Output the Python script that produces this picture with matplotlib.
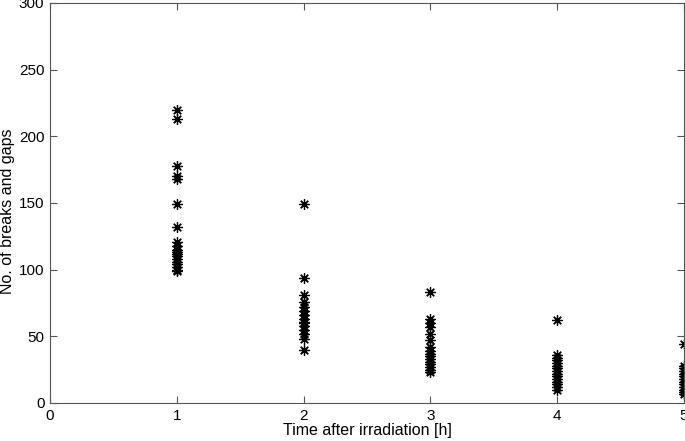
import matplotlib
matplotlib.use("Agg")
import matplotlib.pyplot as plt

plt.rcParams['font.family'] = ['Liberation Sans', 'DejaVu Sans']

t1 = [220, 213, 178, 170, 168, 149, 132, 121, 118, 115, 113, 112, 110, 108, 106, 104, 102, 100, 99]
t2 = [149, 94, 81, 76, 72, 69, 66, 63, 61, 60, 58, 55, 52, 48, 40]
t3 = [83, 63, 60, 57, 52, 47, 42, 39, 37, 35, 33, 31, 29, 27, 25, 23]
t4 = [62, 36, 34, 32, 30, 28, 26, 24, 22, 20, 18, 16, 14, 12, 10]
t5 = [44, 28, 26, 24, 22, 20, 18, 16, 14, 12, 10, 8, 7]
times = [1, 2, 3, 4, 5]
groups = [t1, t2, t3, t4, t5]

fig = plt.figure(figsize=(6.85, 4.41), dpi=100)
ax = fig.add_axes([50/685, 38/441, 634/685, 400/441])
for t, g in zip(times, groups):
    ax.plot([t]*len(g), g, linestyle='none', marker=(8, 2, 0), color='black',
            markersize=7.5, markeredgewidth=0.9)

ax.set_xlim(0, 5)
ax.set_ylim(0, 300)
ax.set_xticks([0, 1, 2, 3, 4, 5])
ax.set_yticks(range(0, 301, 50))
ax.tick_params(direction='in', top=True, right=True, labelsize=11, length=5,
               color='#555555', pad=4)
for s in ax.spines.values():
    s.set_color('#555555')
    s.set_linewidth(0.8)
ax.set_xlabel('Time after irradiation [h]', fontsize=11.5, labelpad=0)
fig.text(8/685, 0.5 + 0.02, 'No. of breaks and gaps', fontsize=11.5,
         rotation=90, ha='center', va='center')

fig.savefig('out.png', dpi=100)
